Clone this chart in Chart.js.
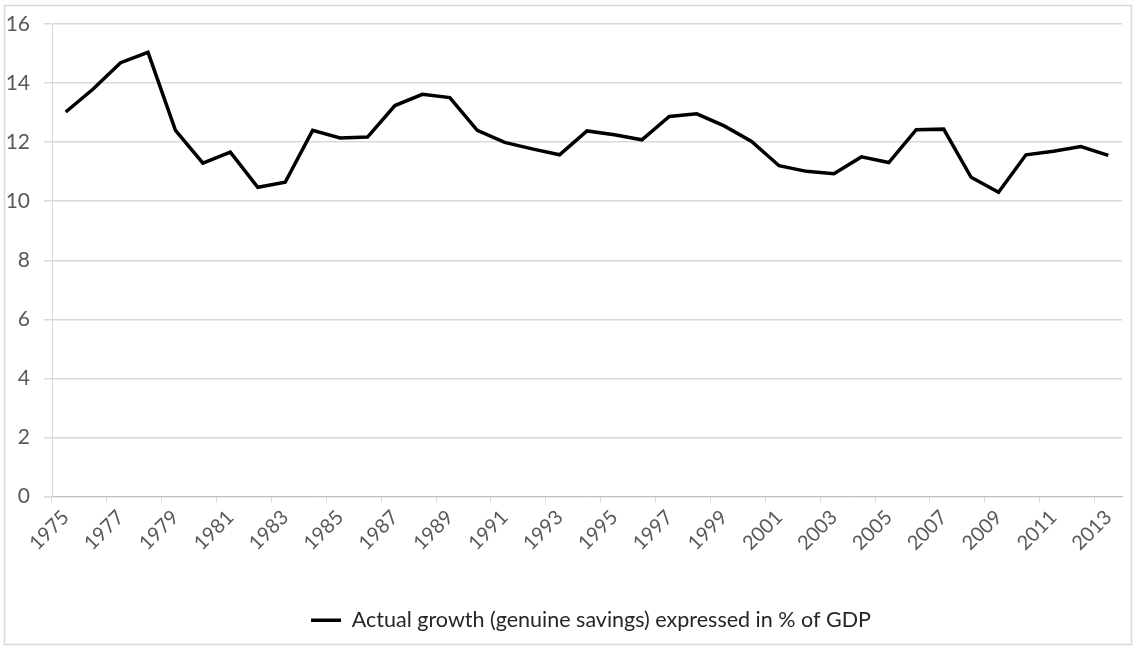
<!DOCTYPE html>
<html>
<head>
<meta charset="utf-8">
<script src="https://cdn.jsdelivr.net/npm/chart.js@4"></script>
<style>
  html, body { margin: 0; padding: 0; background: #fff; }
  #wrap { width: 1136px; height: 650px; }
</style>
</head>
<body>
<div id="wrap"><canvas id="savingsChart" width="1136" height="650"></canvas></div>
<script>
const years = [
  1975, 1976, 1977, 1978, 1979, 1980, 1981, 1982, 1983, 1984,
  1985, 1986, 1987, 1988, 1989, 1990, 1991, 1992, 1993, 1994,
  1995, 1996, 1997, 1998, 1999, 2000, 2001, 2002, 2003, 2004,
  2005, 2006, 2007, 2008, 2009, 2010, 2011, 2012, 2013,
];
const savings = [
  13.02, 13.8, 14.69, 15.04, 12.4, 11.29, 11.66, 10.47, 10.64, 12.4,
  12.14, 12.17, 13.24, 13.62, 13.51, 12.4, 11.99, 11.77, 11.57, 12.38,
  12.25, 12.08, 12.87, 12.96, 12.55, 12.02, 11.2, 11.01, 10.93, 11.5,
  11.31, 12.42, 12.44, 10.81, 10.3, 11.57, 11.69, 11.85, 11.55,
];
const yTicks = [0, 2, 4, 6, 8, 10, 12, 14, 16];
const seriesName = "Actual growth (genuine savings) expressed in % of GDP";

const textColor = "#595959";
const gridColor = "#d9d9d9";
const fontFamily = "Lato, 'Open Sans', sans-serif";

// outer frame like the Excel chart border
const frame = {
  id: "frame",
  beforeDraw(chart) {
    const c = chart.ctx;
    c.save();
    c.fillStyle = "#fff";
    c.fillRect(0, 0, chart.width, chart.height);
    c.strokeStyle = "#d9d9d9";
    c.lineWidth = 1.5;
    c.strokeRect(4.5, 5.5, chart.width - 9, chart.height - 11);
    c.restore();
  },
};

// the legend in the original sits a bit right of centre
const legendShift = {
  id: "legendShift",
  afterLayout(chart) {
    chart.legend.left += 30;
    chart.legend.right += 30;
  },
};

const ctx = document.getElementById("savingsChart").getContext("2d");

new Chart(ctx, {
  type: "line",
  data: {
    labels: years.map(String),
    datasets: [
      {
        label: seriesName,
        data: savings,
        borderColor: "#000",
        backgroundColor: "#000",
        borderWidth: 3.5,
        pointRadius: 0,
        tension: 0,
      },
    ],
  },
  options: {
    responsive: false,
    animation: false,
    layout: { padding: { top: 24, right: 14, bottom: 9, left: 0 } },
    plugins: {
      tooltip: { enabled: false },
      legend: {
        position: "bottom",
        labels: {
          usePointStyle: true,
          pointStyle: "line",
          pointStyleWidth: 30,
          boxHeight: 4,
          color: "#262626",
          padding: 12,
          font: { family: fontFamily, size: 21.5 },
        },
      },
    },
    scales: {
      x: {
        offset: true,
        grid: {
          display: true,
          drawOnChartArea: false,
          drawTicks: true,
          tickLength: 6,
          offset: true,
          color: (c) => (c.index % 2 === 0 ? gridColor : "rgba(0,0,0,0)"),
        },
        border: { color: "#bfbfbf" },
        ticks: {
          autoSkip: false,
          maxRotation: 45,
          minRotation: 45,
          color: textColor,
          font: { family: fontFamily, size: 20 },
          callback: function (val, i) {
            return i % 2 === 0 ? this.getLabelForValue(val) : "";
          },
        },
        afterFit: (scale) => {
          scale.height = 101;
          scale.paddingLeft = 0;
          scale.paddingRight = 0;
        },
      },
      y: {
        min: 0,
        max: 16,
        afterBuildTicks: (scale) => {
          scale.ticks = yTicks.map((v) => ({ value: v }));
        },
        grid: { color: gridColor, lineWidth: 1.5, tickLength: 8 },
        border: { color: gridColor },
        ticks: {
          color: textColor,
          padding: 14,
          font: { family: fontFamily, size: 21 },
        },
        afterFit: (scale) => {
          scale.width = 52;
          scale.paddingTop = 0;
          scale.paddingBottom = 0;
        },
      },
    },
  },
  plugins: [frame, legendShift],
});
</script>
</body>
</html>
